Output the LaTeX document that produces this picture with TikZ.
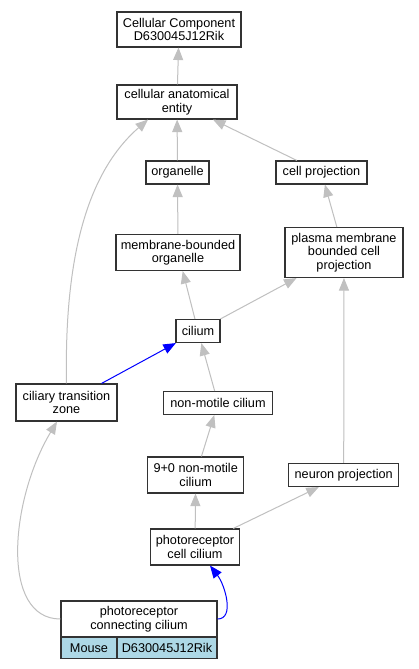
\documentclass[tikz,border=0pt]{standalone}
\usepackage{fontspec}
\setmainfont{Liberation Sans}
\usetikzlibrary{arrows.meta,calc}
\definecolor{edgegray}{HTML}{C0C0C0}
\definecolor{mouseblue}{HTML}{ADD8E6}
\definecolor{boxline}{HTML}{333333}
\begin{document}
\begin{tikzpicture}[x=1pt,y=-1pt,
  box/.style={draw=boxline,line width=1.1pt,inner sep=0pt,align=center,
    font=\fontsize{12.7}{13.5}\selectfont},
  garrow/.style={draw=edgegray,line width=1pt,-{Triangle[length=12.5pt,width=10pt,fill=edgegray]}},
  barrow/.style={draw=blue,line width=1pt,-{Triangle[length=12.5pt,width=10pt,fill=blue]}}]
\useasboundingbox (0,0) rectangle (419,669);
\fill[white] (0,0) rectangle (419,669);

\node[box,minimum width=124pt,minimum height=35pt] (cc) at (179,29.5) {Cellular Component\\D630045J12Rik};
\node[box,minimum width=120pt,minimum height=34pt] (cae) at (177,102) {cellular anatomical\\entity};
\node[box,minimum width=63pt,minimum height=23pt] (org) at (177.5,172.5) {organelle};
\node[box,minimum width=91pt,minimum height=23pt] (cp) at (321.5,172.5) {cell projection};
\node[box,minimum width=124pt,minimum height=36pt] (mbo) at (178,252.5) {membrane-bounded\\organelle};
\node[box,minimum width=118pt,minimum height=50pt] (pmb) at (344,252.5) {plasma membrane\\bounded cell\\projection};
\node[box,minimum width=44pt,minimum height=23pt] (cil) at (198,331) {cilium};
\node[box,minimum width=101pt,minimum height=37pt] (ctz) at (66.5,402.5) {ciliary transition\\zone};
\node[box,minimum width=109pt,minimum height=23pt] (nmc) at (218,403) {non-motile cilium};
\node[box,minimum width=96pt,minimum height=36pt] (nm90) at (195.7,475) {9+0 non-motile\\cilium};
\node[box,minimum width=110pt,minimum height=23pt] (np) at (343.7,475) {neuron projection};
\node[box,minimum width=89pt,minimum height=36pt] (pcc) at (195,547) {photoreceptor\\cell cilium};
\node[box,minimum width=156pt,minimum height=36pt] (pconn) at (139,619) {photoreceptor\\connecting cilium};
\node[box,fill=mouseblue,minimum width=56pt,minimum height=21.5pt] (mouse) at (89,648) {Mouse};
\node[box,fill=mouseblue,minimum width=100pt,minimum height=21.5pt] (gene) at (167,648) {D630045J12Rik};

\draw[garrow] (cae) -- (cc);
\draw[garrow] (org) -- (cae);
\draw[garrow] (cp) -- (cae);
\draw[garrow] (ctz.north) .. controls (64,250) and (90,170) .. ($(cae.south)+(-29,0)$);
\draw[garrow] (mbo) -- (org);
\draw[garrow] (pmb) -- (cp);
\draw[garrow] (cil) -- (mbo);
\draw[garrow] (cil) -- (pmb);
\draw[barrow] (ctz) -- (cil);
\draw[garrow] (nmc) -- (cil);
\draw[garrow] (nm90) -- (nmc);
\draw[garrow] (pcc) -- (nm90);
\draw[garrow] (pcc) -- (np);
\draw[garrow] (np) -- (pmb);
\draw[garrow] (pconn.west) .. controls (0,619) and (10,500) .. ($(ctz.south)+(-9.5,0)$);
\draw[barrow] (pconn.east) .. controls (235,619) and (225,585) .. ($(pcc.south)+(15,0)$);
\end{tikzpicture}
\end{document}
